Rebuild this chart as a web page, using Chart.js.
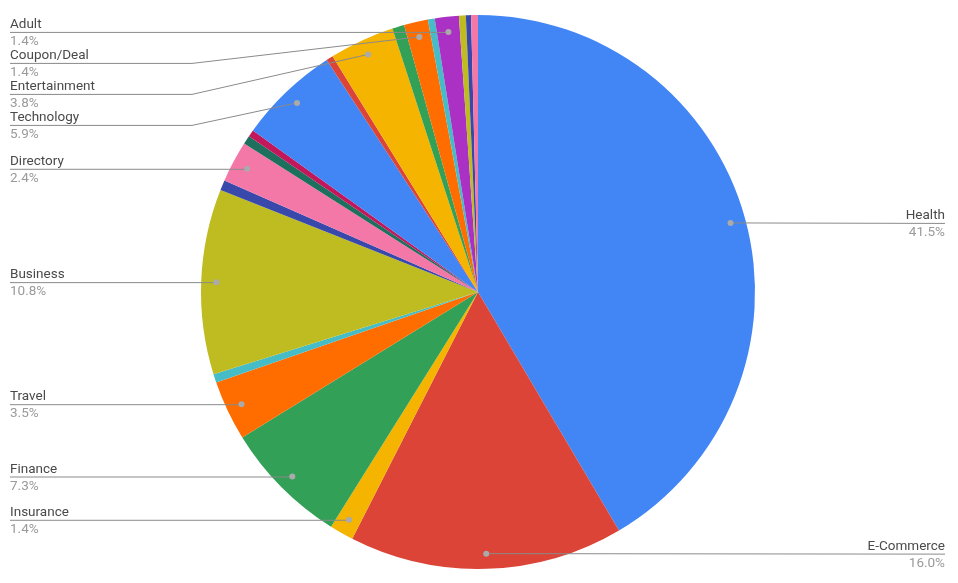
<!DOCTYPE html>
<html>
<head>
<meta charset="utf-8">
<script src="https://cdn.jsdelivr.net/npm/chart.js@4"></script>
<style>
  html, body { margin: 0; padding: 0; background: #fff; }
  #wrap { width: 958px; height: 583px; }
</style>
</head>
<body>
<div id="wrap"><canvas id="myChart" width="958" height="583"></canvas></div>
<script>
"use strict";

// categories, clockwise from 12 o'clock
const categories = [
    'Health', 'E-Commerce', 'Insurance', 'Finance', 'Travel', 'Other A',
    'Business', 'Other B', 'Directory', 'Other C', 'Other D', 'Technology',
    'Other E', 'Entertainment', 'Other F', 'Coupon/Deal', 'Other G', 'Adult',
    'Other H', 'Other I', 'Other J'
];
// percent share of each category
const shares = [
    41.5, 16.0, 1.4, 7.3, 3.5, 0.5,
    10.8, 0.6, 2.4, 0.5, 0.4, 5.9,
    0.4, 3.8, 0.7, 1.4, 0.4, 1.4,
    0.4, 0.3, 0.4
];
// which slices get an outside label
const labelled = [
    true, true, true, true, true, false,
    true, false, true, false, false, true,
    false, true, false, true, false, true,
    false, false, false
];
const sliceColors = [
    '#4285F4', '#DB4437', '#F4B400', '#33A057', '#FF6D00', '#46BDC6',
    '#BFBC22', '#3949AB', '#F478A7', '#1D6F5E', '#C2185B', '#4285F4',
    '#DB4437', '#F4B400', '#33A057', '#FF6D00', '#46BDC6', '#AB30C4',
    '#BFBC22', '#3949AB', '#F478A7'
];

// подписи снаружи с выносными линиями
const outsideLabels = {
    id: 'outsideLabels',
    afterDraw(chart) {
        const ctx = chart.ctx;
        const meta = chart.getDatasetMeta(0);
        const left = [], right = [];
        meta.data.forEach((arc, i) => {
            if (!labelled[i]) return;
            const mid = (arc.startAngle + arc.endAngle) / 2;
            const r = arc.outerRadius * 0.945;
            const p = {
                i: i,
                px: arc.x + Math.cos(mid) * r,
                py: arc.y + Math.sin(mid) * r
            };
            p.ly = p.py;
            (Math.cos(mid) >= 0 ? right : left).push(p);
        });
        // раздвигаем подписи слева, чтобы не налезали
        left.sort((a, b) => a.py - b.py);
        for (let k = 1; k < left.length; k++) {
            if (left[k].ly < left[k - 1].ly + 31) left[k].ly = left[k - 1].ly + 31;
        }

        ctx.save();
        ctx.lineWidth = 1;
        ctx.font = '13.5px Roboto, "Noto Sans", sans-serif';

        left.forEach(p => {
            ctx.strokeStyle = '#8a8a8a';
            ctx.beginPath();
            ctx.moveTo(10, p.ly + 0.5);
            if (Math.abs(p.ly - p.py) > 1) {
                ctx.lineTo(192, p.ly + 0.5);
                ctx.lineTo(p.px, p.py);
            } else {
                ctx.lineTo(p.px, p.ly + 0.5);
            }
            ctx.stroke();
            ctx.textAlign = 'left';
            ctx.fillStyle = '#4a4a4a';
            ctx.fillText(categories[p.i], 10, p.ly - 4);
            ctx.fillStyle = '#9a9a9a';
            ctx.fillText(shares[p.i].toFixed(1) + '%', 10, p.ly + 13);
        });

        right.forEach(p => {
            ctx.strokeStyle = '#8a8a8a';
            ctx.beginPath();
            ctx.moveTo(p.px, p.py);
            ctx.lineTo(945, p.ly + 0.5);
            ctx.stroke();
            ctx.textAlign = 'right';
            ctx.fillStyle = '#4a4a4a';
            ctx.fillText(categories[p.i], 945, p.ly - 4);
            ctx.fillStyle = '#9a9a9a';
            ctx.fillText(shares[p.i].toFixed(1) + '%', 945, p.ly + 13);
        });

        // точки внутри секторов
        left.concat(right).forEach(p => {
            ctx.fillStyle = '#aaa';
            ctx.beginPath();
            ctx.arc(p.px, p.py, 3, 0, Math.PI * 2);
            ctx.fill();
        });
        ctx.restore();
    }
};

const ctx = document.getElementById('myChart');
const myChart = new Chart(ctx, {
    type: 'pie',
    data: {
        labels: categories,
        datasets: [{
            data: shares,
            backgroundColor: sliceColors,
            borderWidth: 0
        }]
    },
    options: {
        responsive: false,
        animation: false,
        layout: { padding: { top: 15, bottom: 14, left: 0, right: 2 } },
        plugins: {
            legend: { display: false },
            tooltip: { enabled: false }
        }
    },
    plugins: [outsideLabels]
});
</script>
</body>
</html>
